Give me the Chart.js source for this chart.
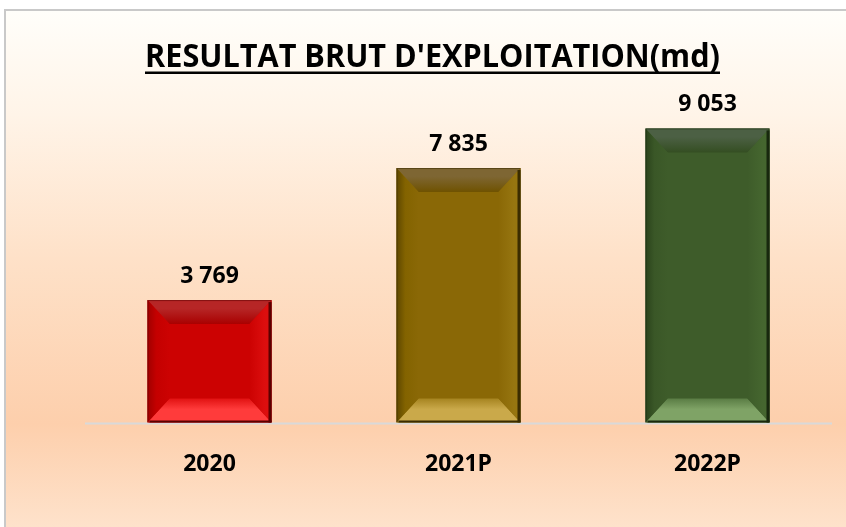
<!DOCTYPE html>
<html>
<head>
<meta charset="utf-8">
<script src="https://cdn.jsdelivr.net/npm/chart.js@4.4.1/dist/chart.umd.min.js"></script>
<style>
  html, body { margin: 0; padding: 0; background: #fff; }
  #wrap { width: 846px; height: 527px; position: relative; }
</style>
</head>
<body>
<div id="wrap"><canvas id="chart" width="846" height="527"></canvas></div>
<script>
'use strict';

// data
const categories = ['2020', '2021P', '2022P'];
const values = [3769, 7835, 9053];
const valueLabels = ['3 769', '7 835', '9 053'];
const chartTitle = "RESULTAT BRUT D'EXPLOITATION(md)";

// bar looks (base, top edge, top inner, bottom outer, bottom inner, left outer, left inner, right, dark edge)
const barStyles = [
  { base: '#cc0202', topEdge: '#b62626', topIn: '#a90000', botOut: '#ff3b3b', botIn: '#e11212', leftOut: '#a00000', leftIn: '#c40000', right: '#dc0e0e', edge: '#5a0000' },
  { base: '#8a6806', topEdge: '#7e6633', topIn: '#6f5200', botOut: '#caa94a', botIn: '#a68420', leftOut: '#5e4700', leftIn: '#836300', right: '#967510', edge: '#3a2c00' },
  { base: '#3e5c2a', topEdge: '#4c6044', topIn: '#344e22', botOut: '#7fa366', botIn: '#5a7c44', leftOut: '#2a421b', leftIn: '#3a5727', right: '#45662f', edge: '#18280e' }
];

const FONT = '"Open Sans", "Liberation Sans", sans-serif';

// background, frame, axis line
const backdrop = {
  id: 'backdrop',
  beforeDraw(chart) {
    const ctx = chart.ctx;
    const W = chart.width, H = chart.height;
    ctx.save();
    ctx.fillStyle = '#ffffff';
    ctx.fillRect(0, 0, W, H);
    const g = ctx.createLinearGradient(0, 11, 0, H);
    g.addColorStop(0, '#fffefa');
    g.addColorStop(0.2, '#fff4e8');
    g.addColorStop(0.48, '#fee1c8');
    g.addColorStop(0.8, '#fdcfac');
    g.addColorStop(1, '#fee2cb');
    ctx.fillStyle = g;
    ctx.fillRect(6, 11, W - 6, H - 11);
    ctx.strokeStyle = '#c9c9c9';
    ctx.lineWidth = 2;
    ctx.beginPath();
    ctx.moveTo(5, H);
    ctx.lineTo(5, 10);
    ctx.lineTo(W, 10);
    ctx.stroke();
    ctx.restore();
  },
  beforeDatasetsDraw(chart) {
    const ctx = chart.ctx;
    const area = chart.chartArea;
    const y0 = chart.scales.y.getPixelForValue(0);
    ctx.save();
    ctx.strokeStyle = '#d9d9d9';
    ctx.lineWidth = 2;
    ctx.beginPath();
    ctx.moveTo(area.left, y0 + 1);
    ctx.lineTo(area.right, y0 + 1);
    ctx.stroke();
    ctx.restore();
  }
};

function quad(ctx, pts, fill) {
  ctx.beginPath();
  ctx.moveTo(pts[0][0], pts[0][1]);
  for (let i = 1; i < pts.length; i++) ctx.lineTo(pts[i][0], pts[i][1]);
  ctx.closePath();
  ctx.fillStyle = fill;
  ctx.fill();
}

// bevel effect on top of each bar
const bevel = {
  id: 'bevel',
  afterDatasetsDraw(chart) {
    const ctx = chart.ctx;
    const meta = chart.getDatasetMeta(0);
    meta.data.forEach((bar, i) => {
      const s = barStyles[i];
      const p = bar.getProps(['x', 'y', 'base', 'width'], true);
      const L = p.x - p.width / 2, R = p.x + p.width / 2;
      const T = p.y, B = p.base;
      const bv = 24, bh = 22;
      ctx.save();
      // top
      let g = ctx.createLinearGradient(0, T, 0, T + bv);
      g.addColorStop(0, s.topEdge);
      g.addColorStop(0.35, s.topEdge);
      g.addColorStop(1, s.topIn);
      quad(ctx, [[L, T], [R, T], [R - bh, T + bv], [L + bh, T + bv]], g);
      // bottom
      g = ctx.createLinearGradient(0, B - bv, 0, B);
      g.addColorStop(0, s.botIn);
      g.addColorStop(0.45, s.botOut);
      g.addColorStop(1, s.botOut);
      quad(ctx, [[L + bh, B - bv], [R - bh, B - bv], [R, B], [L, B]], g);
      // left
      g = ctx.createLinearGradient(L, 0, L + bh, 0);
      g.addColorStop(0, s.leftOut);
      g.addColorStop(0.4, s.leftIn);
      g.addColorStop(1, s.base);
      quad(ctx, [[L, T], [L + bh, T + bv], [L + bh, B - bv], [L, B]], g);
      // right
      g = ctx.createLinearGradient(R - bh, 0, R, 0);
      g.addColorStop(0, s.base);
      g.addColorStop(0.7, s.right);
      g.addColorStop(1, s.right);
      quad(ctx, [[R, T], [R, B], [R - bh, B - bv], [R - bh, T + bv]], g);
      // dark outline, heavier on right/bottom
      ctx.strokeStyle = s.edge;
      ctx.globalAlpha = 0.55;
      ctx.lineWidth = 1;
      ctx.strokeRect(L + 0.5, T + 0.5, p.width - 1, B - T - 1);
      ctx.globalAlpha = 1;
      ctx.fillStyle = s.edge;
      ctx.fillRect(R - 3, T + 2, 3, B - T - 2);
      ctx.fillRect(L + 2, B - 2, p.width - 2, 2);
      ctx.restore();
    });
  }
};

// title, value labels and category labels
const texts = {
  id: 'texts',
  afterDraw(chart) {
    const ctx = chart.ctx;
    const xs = chart.scales.x;
    const y0 = chart.scales.y.getPixelForValue(0);
    ctx.save();
    ctx.fillStyle = '#000';
    ctx.textAlign = 'center';
    ctx.textBaseline = 'alphabetic';

    // title squeezed to the Calibri-like width
    ctx.font = '700 33px ' + FONT;
    const tw = ctx.measureText(chartTitle).width;
    const target = 575, cx = 432.5;
    ctx.save();
    ctx.translate(cx, 67);
    ctx.scale(target / tw, 1);
    ctx.fillText(chartTitle, 0, 0);
    ctx.restore();
    ctx.fillRect(cx - target / 2, 71.5, target, 2.5);

    ctx.font = '700 23px ' + FONT;
    const meta = chart.getDatasetMeta(0);
    meta.data.forEach((bar, i) => {
      ctx.fillText(valueLabels[i], bar.x, bar.y - 17);
    });
    categories.forEach((c, i) => {
      ctx.fillText(c, xs.getPixelForValue(i), y0 + 48);
    });
    ctx.restore();
  }
};

new Chart(document.getElementById('chart'), {
  type: 'bar',
  data: {
    labels: categories,
    datasets: [{
      data: values,
      backgroundColor: barStyles.map(s => s.base),
      borderWidth: 0,
      barPercentage: 1,
      categoryPercentage: 0.498
    }]
  },
  options: {
    responsive: false,
    animation: false,
    devicePixelRatio: 1,
    layout: { padding: { left: 85, right: 14, top: 97.7, bottom: 104.5 } },
    plugins: {
      legend: { display: false },
      title: { display: false },
      tooltip: { enabled: false }
    },
    scales: {
      x: { display: false },
      y: { display: false, min: 0, max: 10000 }
    }
  },
  plugins: [backdrop, bevel, texts]
});
</script>
</body>
</html>
